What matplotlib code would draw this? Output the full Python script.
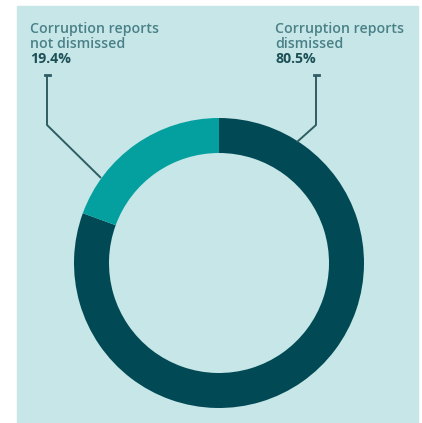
import matplotlib.pyplot as plt
from matplotlib.patches import Rectangle

labels = [['Corruption reports', 'dismissed'], ['Corruption reports', 'not dismissed']]
shares = [80.5, 19.4]
pct_text = ['80.5%', '19.4%']
colors = ['#014a55', '#03a09f']

W, H = 422, 423
fig = plt.figure(figsize=(W / 100, H / 100), dpi=100)
ax = fig.add_axes([0, 0, 1, 1])

# light panel
ax.add_patch(Rectangle((17, 0), 401, H - 6, color='#c6e6e7', zorder=0))

ax.pie(shares, colors=colors, startangle=90, counterclock=False,
       center=(219, H - 263), radius=145,
       wedgeprops=dict(width=35, linewidth=0), frame=True)
ax.set_xlim(0, W)
ax.set_ylim(0, H)
ax.set_aspect('equal')
ax.axis('off')

txt_col = '#4a8188'
line_col = '#2e5d63'
font = 'Open Sans'

# text blocks: left x and baselines in pixels
xs_txt = [275, 30]
baselines = [33, 48, 63]
for lab, pct, x in zip(labels, pct_text, xs_txt):
    for line, b in zip(lab, baselines):
        ax.text(x, H - b, line, ha='left', va='baseline', fontsize=10.2,
                color=txt_col, family=font, fontweight='semibold')
    ax.text(x, H - baselines[2], pct, ha='left', va='baseline', fontsize=10.2,
            color='#1d4f56', family=font, fontweight='bold')

# leader lines
leaders = [
    [(316, 75), (316, 125), (297, 142)],
    [(47, 75), (47, 125), (101, 178)],
]
for pts in leaders:
    xs = [p[0] for p in pts]
    ys = [H - p[1] for p in pts]
    ax.plot(xs, ys, color=line_col, lw=1.4, solid_capstyle='butt')
    ax.plot([xs[0] - 2.5, xs[0] + 2.5], [ys[0], ys[0]], color=line_col, lw=2)

fig.savefig('out.png', dpi=100, facecolor='white')
